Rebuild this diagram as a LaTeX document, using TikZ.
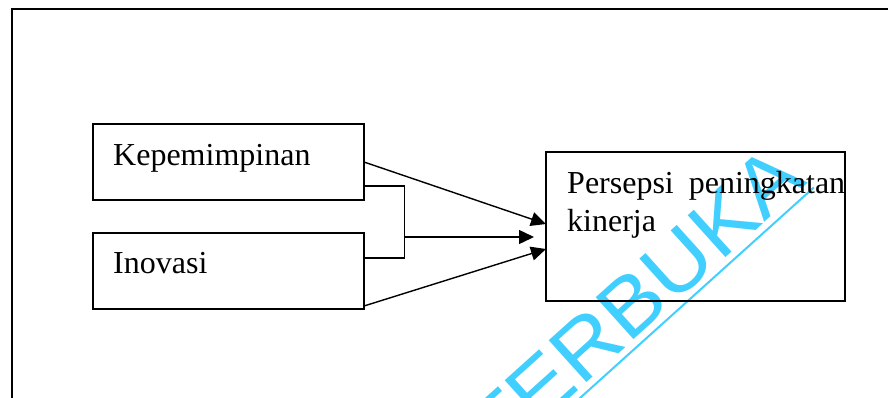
\documentclass[tikz,border=0pt]{standalone}
\usepackage{fontspec}
\setmainfont{Liberation Serif}
\newfontfamily\wmfont{Liberation Sans}
\usetikzlibrary{arrows.meta}
\definecolor{wmcyan}{RGB}{64,207,255}
\hbadness=10000

\begin{document}
\begin{tikzpicture}[x=1pt,y=-1pt,
  box/.style={draw, line width=1.3pt, inner sep=0pt, outer sep=0pt},
  lbl/.style={font=\fontsize{32}{38.4}\selectfont, inner sep=0pt, anchor=base west},
  link/.style={line width=1.4pt},
  arr/.style={link, -{Triangle[length=15pt,width=14pt]}},
  wmark/.style={font=\wmfont\fontsize{82}{82}\selectfont, text=wmcyan, inner sep=0pt}]

\useasboundingbox (0,0) rectangle (888,397);
\clip (0,0) rectangle (888,397);

% watermark behind the diagram, with its underline
\node[wmark, rotate=42, anchor=base east] (wm) at (808.1,183.2) {\scalebox{1.08}[1]{TERBUKA}};
\coordinate (ulA) at (813.8,187.5);
\draw[wmcyan, line width=2pt] (ulA) -- ++(138:400);

% outer frame (continues past the page on the right and bottom)
\coordinate (fTL) at (12,9.3);
\draw[line width=2pt] (12,420) -- (fTL) -- (900,9.3);

% boxes
\node[box, minimum width=271pt, minimum height=76pt] (kep) at (228.5,162) {};
\node[box, minimum width=271pt, minimum height=76pt] (ino) at (228.5,271) {};
\node[box, minimum width=299pt, minimum height=149pt] (per) at (695.5,226.5) {};

% labels
\node[lbl] (kepT) at (113,165) {Kepemimpinan};
\node[lbl] (inoT) at (113,273.3) {Inovasi};
\node[lbl] (perT) at (567,193.3) {\parbox[t]{278pt}{\hyphenpenalty=10000 Persepsi peningkatan\linebreak kinerja}};

% connectors
\coordinate (t1) at (per.west |- 0,224);
\coordinate (t3) at (per.west |- 0,249);
\coordinate (t2) at (534,237);
\coordinate (b1) at (kep.east |- 0,186);
\coordinate (b2) at (ino.east |- 0,258);
\coordinate (s3) at (ino.east |- 0,306);
\coordinate (jx) at (404.3,237);

\draw[arr] (kep.east) -- (t1);
\draw[arr] (s3) -- (t3);
\draw[link] (b1) -- (b1 -| jx) -- (b2 -| jx) -- (b2);
\draw[arr] (jx) -- (t2);
\end{tikzpicture}
\end{document}
